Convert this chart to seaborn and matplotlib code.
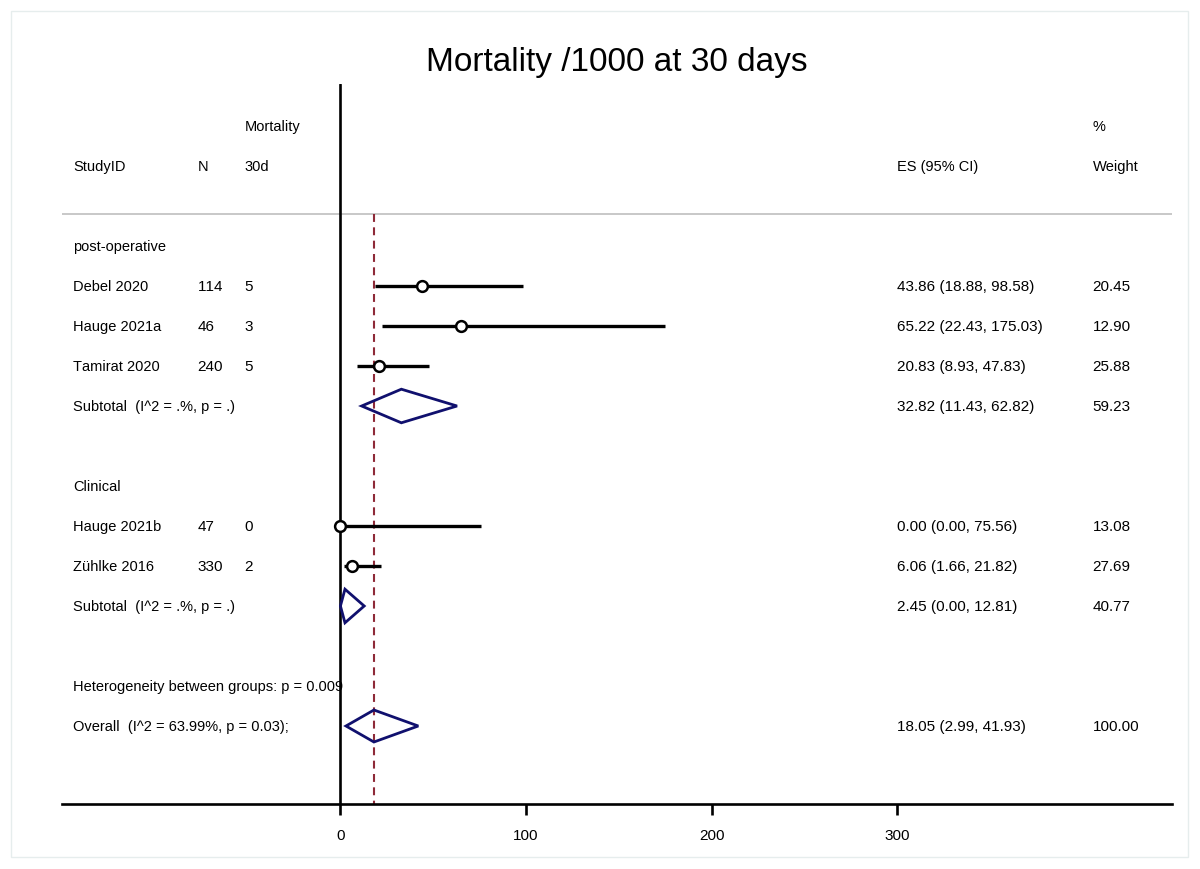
import matplotlib
matplotlib.use("Agg")
import matplotlib.pyplot as plt
import seaborn as sns
import pandas as pd
from matplotlib.patches import Polygon, Rectangle

# study-level data
groups = ["post-operative", "Clinical"]
studies = ["Debel 2020", "Hauge 2021a", "Tamirat 2020", "Hauge 2021b", "Zühlke 2016"]
study_group = [0, 0, 0, 1, 1]
n_patients = [114, 46, 240, 47, 330]
deaths_30d = [5, 3, 5, 0, 2]
es = [43.86, 65.22, 20.83, 0.00, 6.06]
ci_lo = [18.88, 22.43, 8.93, 0.00, 1.66]
ci_hi = [98.58, 175.03, 47.83, 75.56, 21.82]
weight = [20.45, 12.90, 25.88, 13.08, 27.69]

# subgroup pooled estimates
sub_es = [32.82, 2.45]
sub_lo = [11.43, 0.00]
sub_hi = [62.82, 12.81]
sub_w = [59.23, 40.77]
sub_label = ["Subtotal  (I^2 = .%, p = .)", "Subtotal  (I^2 = .%, p = .)"]

# overall pooled estimate
overall_es, overall_lo, overall_hi, overall_w = 18.05, 2.99, 41.93, 100.00
overall_label = "Overall  (I^2 = 63.99%, p = 0.03);"
het_label = "Heterogeneity between groups: p = 0.009"

xticks = [0, 100, 200, 300]

sns.set_style("white")
plt.rcParams["font.family"] = ["Liberation Sans", "DejaVu Sans"]
plt.rcParams["text.color"] = "black"
plt.rcParams["xtick.color"] = "black"
plt.rcParams["text.kerning_factor"] = 6

# row layout
rows = []
r = 0
for g, name in enumerate(groups):
    rows.append(("group", g, r)); r += 1
    for i in range(len(studies)):
        if study_group[i] == g:
            rows.append(("study", i, r)); r += 1
    rows.append(("sub", g, r)); r += 2
het_row = r
overall_row = r + 1

df = pd.DataFrame({"study": studies, "es": es, "lo": ci_lo, "hi": ci_hi,
                   "row": [rw for kind, i, rw in rows if kind == "study"]})

fig = plt.figure(figsize=(12, 8.7), dpi=100)
fig.patches.append(Rectangle((11 / 1200, 12 / 870), 1177 / 1200, 846 / 870,
                             transform=fig.transFigure, fill=False,
                             edgecolor="#e6eded", lw=1))
ax = fig.add_axes([62 / 1200, 65 / 870, 1110 / 1200, 720 / 870])

xmin, xmax = -150, 448
ymin, ymax = overall_row + 1.95, -4.05
ax.set_xlim(xmin, xmax)
ax.set_ylim(ymin, ymax)

fs = 10.5      # labels
fn = 11.0      # numeric columns
col_id, col_n, col_d, col_es, col_w = -143.9, -77.0, -51.7, 300.1, 405.2

# headers
ax.text(col_d, -3, "Mortality", fontsize=fs, va="center")
ax.text(col_w, -3, "%", fontsize=fs, va="center")
ax.text(col_id, -2, "StudyID", fontsize=fs, va="center")
ax.text(col_n, -2, "N", fontsize=fs, va="center")
ax.text(col_d, -2, "30d", fontsize=fs, va="center")
ax.text(col_es, -2, "ES (95% CI)", fontsize=fs, va="center")
ax.text(col_w, -2, "Weight", fontsize=fs, va="center")
ax.axhline(-0.8, color="#c4c4c4", lw=1.3, zorder=1)

# zero line and overall line
ax.axvline(0, color="black", lw=1.9, zorder=2)
ax.plot([overall_es, overall_es], [-0.8, ymin], color="#8e2a38", lw=1.5,
        linestyle=(0, (3.8, 2.6)), zorder=2)

hh = 0.42
for kind, i, rw in rows:
    if kind == "group":
        ax.text(col_id, rw, groups[i], fontsize=fs, va="center")
    elif kind == "study":
        ax.text(col_id, rw, studies[i], fontsize=fs, va="center")
        ax.text(col_n, rw, str(n_patients[i]), fontsize=fn, va="center")
        ax.text(col_d, rw, str(deaths_30d[i]), fontsize=fn, va="center")
        ax.text(col_es, rw, f"{es[i]:.2f} ({ci_lo[i]:.2f}, {ci_hi[i]:.2f})",
                fontsize=fn, va="center")
        ax.text(col_w, rw, f"{weight[i]:.2f}", fontsize=fn, va="center")
        ax.plot([ci_lo[i], ci_hi[i]], [rw, rw], color="black", lw=2.4,
                solid_capstyle="butt", zorder=3)
    else:
        ax.text(col_id, rw, sub_label[i], fontsize=fs, va="center")
        ax.text(col_es, rw, f"{sub_es[i]:.2f} ({sub_lo[i]:.2f}, {sub_hi[i]:.2f})",
                fontsize=fn, va="center")
        ax.text(col_w, rw, f"{sub_w[i]:.2f}", fontsize=fn, va="center")
        ax.add_patch(Polygon([(sub_lo[i], rw), (sub_es[i], rw - hh),
                              (sub_hi[i], rw), (sub_es[i], rw + hh)],
                             closed=True, fill=False, edgecolor="#10106e",
                             lw=2.0, zorder=4))

sns.scatterplot(data=df, x="es", y="row", ax=ax, s=60, color="white",
                edgecolor="black", linewidth=1.8, zorder=5, legend=False)

ax.text(col_id, het_row, het_label, fontsize=fs, va="center", zorder=6)
ax.text(col_id, overall_row, overall_label, fontsize=fs, va="center")
ax.text(col_es, overall_row,
        f"{overall_es:.2f} ({overall_lo:.2f}, {overall_hi:.2f})",
        fontsize=fn, va="center")
ax.text(col_w, overall_row, f"{overall_w:.2f}", fontsize=fn, va="center")
ax.add_patch(Polygon([(overall_lo, overall_row), (overall_es, overall_row - 0.4),
                      (overall_hi, overall_row), (overall_es, overall_row + 0.4)],
                     closed=True, fill=False, edgecolor="#10106e", lw=2.0, zorder=4))

for s in ["left", "top", "right"]:
    ax.spines[s].set_visible(False)
ax.spines["bottom"].set_linewidth(1.9)
ax.spines["bottom"].set_color("black")
ax.set_xticks(xticks)
ax.set_xticklabels([str(t) for t in xticks], fontsize=fn)
ax.tick_params(axis="x", direction="out", length=8, width=1.9, pad=9, bottom=True,
               colors="black")
ax.set_yticks([])
ax.set_xlabel("")
ax.set_ylabel("")

fig.text(617 / 1200, 1 - 62 / 870, "Mortality /1000 at 30 days", fontsize=24,
         ha="center", va="center", color="black")

fig.savefig("out.png", dpi=100)
